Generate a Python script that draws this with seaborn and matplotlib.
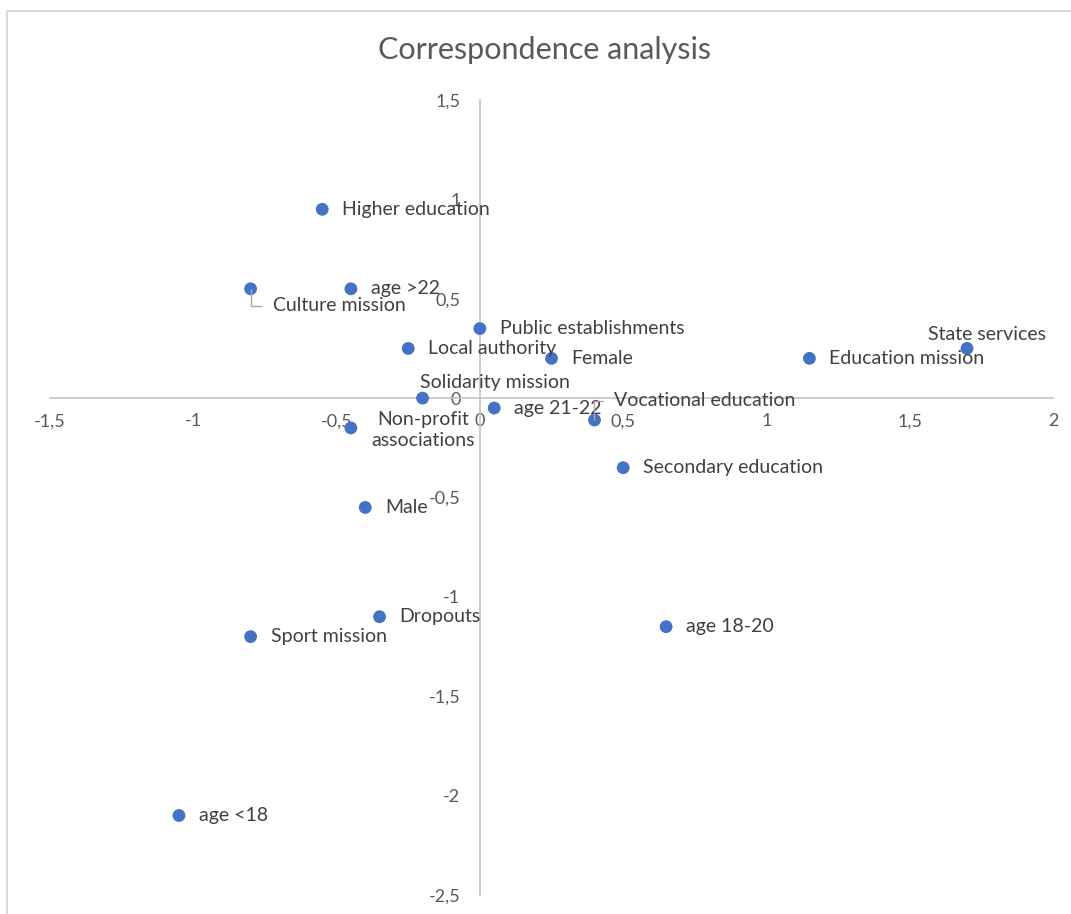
import matplotlib
matplotlib.use("Agg")
import matplotlib.pyplot as plt
from matplotlib.lines import Line2D
from matplotlib.ticker import FuncFormatter, MultipleLocator
import pandas as pd
import seaborn as sns

# Correspondence analysis coordinates (dimension 1, dimension 2)
categories = [
    "Higher education", "Culture mission", "age >22", "Public establishments",
    "Local authority", "Female", "Education mission", "State services",
    "Solidarity mission", "Non-profit\nassociations", "age 21-22",
    "Vocational education", "Secondary education", "Male", "Dropouts",
    "Sport mission", "age 18-20", "age <18",
]
dim1 = [-0.55, -0.80, -0.45, 0.00, -0.25, 0.25, 1.15, 1.70,
        -0.20, -0.45, 0.05, 0.40, 0.50, -0.40, -0.35, -0.80, 0.65, -1.05]
dim2 = [0.95, 0.55, 0.55, 0.35, 0.25, 0.20, 0.20, 0.25,
        0.00, -0.15, -0.05, -0.11, -0.35, -0.55, -1.10, -1.20, -1.15, -2.10]

sns.set_style("white")
plt.rcParams["font.family"] = ["Lato", "DejaVu Sans"]

df = pd.DataFrame({"category": categories, "dim1": dim1, "dim2": dim2})

W, H, DPI = 1071, 914, 100
fig = plt.figure(figsize=(W / DPI, H / DPI), dpi=DPI)
ax = fig.add_axes([50 / W, 1 - 895 / H, 1003 / W, 795 / H])

sns.scatterplot(data=df, x="dim1", y="dim2", ax=ax, s=85, color="#4472C4",
                edgecolor="none", linewidth=0, zorder=4, legend=False)

ax.set_xlim(-1.5, 2)
ax.set_ylim(-2.5, 1.5)
ax.xaxis.set_major_locator(MultipleLocator(0.5))
ax.yaxis.set_major_locator(MultipleLocator(0.5))
fmt = FuncFormatter(lambda v, _: f"{v:g}".replace(".", ","))
ax.xaxis.set_major_formatter(fmt)
ax.yaxis.set_major_formatter(fmt)

# Axes crossing at the origin
for side in ("top", "right"):
    ax.spines[side].set_visible(False)
ax.spines["left"].set_position(("data", 0))
ax.spines["bottom"].set_position(("data", 0))
for side in ("left", "bottom"):
    ax.spines[side].set_color("#BFBFBF")
    ax.spines[side].set_linewidth(1.1)
    ax.spines[side].set_zorder(1)
ax.tick_params(axis="x", length=0, pad=11, labelsize=13, labelcolor="#595959")
ax.tick_params(axis="y", length=0, pad=14, labelsize=13, labelcolor="#595959")
ax.set_xlabel("")
ax.set_ylabel("")
ax.grid(False)

# Label placement: offset in pixels (dx, dy), alignment, leader line
PT = 72 / DPI
placement = {
    "Culture mission": (22, -17, "left", True),
    "Vocational education": (20, 19, "left", True),
    "State services": (20, 13.5, "center", False),
    "Solidarity mission": (-3, 16, "left", False),
    "Non-profit\nassociations": (72, -2, "center", False),
}
label_color = "#404040"
for name, x, y in zip(categories, dim1, dim2):
    dx, dy, ha, leader = placement.get(name, (20, 0, "left", False))
    kw = dict(xy=(x, y), xytext=(dx * PT, dy * PT), textcoords="offset points",
              ha=ha, va="center", fontsize=14, color=label_color, zorder=5,
              linespacing=1.3, multialignment="center")
    if leader:
        kw["arrowprops"] = dict(arrowstyle="-", color="#A6A6A6", lw=1.0,
                                connectionstyle="angle,angleA=180,angleB=90,rad=0",
                                relpos=(0, 0.5), shrinkA=6, shrinkB=0, zorder=2)
    ax.annotate(name, **kw)

fig.text(545 / W, 1 - 50 / H, "Correspondence analysis", ha="center", va="center",
         fontsize=22, color="#595959")

# Chart area border (top and left edges)
border = "#D9D9D9"
fig.add_artist(Line2D([7 / W, 1], [1 - 11 / H, 1 - 11 / H], transform=fig.transFigure,
                      color=border, lw=1.5))
fig.add_artist(Line2D([7 / W, 7 / W], [0, 1 - 11 / H], transform=fig.transFigure,
                      color=border, lw=1.5))

fig.savefig("out.png", dpi=DPI, facecolor="white")
